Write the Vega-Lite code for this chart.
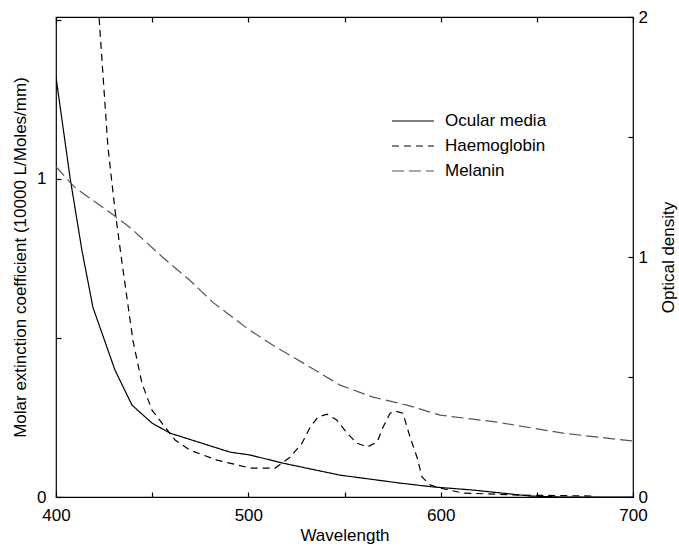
{
  "$schema": "https://vega.github.io/schema/vega-lite/v6.json",
  "width": 577,
  "height": 480,
  "autosize": {"type": "none"},
  "padding": {"left": 56, "top": 17, "right": 46, "bottom": 49},
  "background": "white",
  "config": {
    "view": {"stroke": "black", "strokeWidth": 1.2},
    "font": "Liberation Sans",
    "axis": {
      "grid": false,
      "domain": false,
      "tickColor": "black",
      "tickSize": 5,
      "tickWidth": 1.2,
      "offset": -5,
      "labelFont": "Liberation Sans",
      "labelFontSize": 17,
      "labelColor": "black",
      "titleFont": "Liberation Sans",
      "titleFontWeight": "normal",
      "titleColor": "black"
    }
  },
  "data": {
    "values": [
      {"series": "Haemoglobin", "w": 422.4, "v": 1.505},
      {"series": "Haemoglobin", "w": 427, "v": 1.10},
      {"series": "Haemoglobin", "w": 430.7, "v": 0.90},
      {"series": "Haemoglobin", "w": 433.8, "v": 0.759},
      {"series": "Haemoglobin", "w": 440, "v": 0.492},
      {"series": "Haemoglobin", "w": 444.7, "v": 0.357},
      {"series": "Haemoglobin", "w": 449.9, "v": 0.273},
      {"series": "Haemoglobin", "w": 455.1, "v": 0.232},
      {"series": "Haemoglobin", "w": 461.9, "v": 0.179},
      {"series": "Haemoglobin", "w": 469.7, "v": 0.147},
      {"series": "Haemoglobin", "w": 483.7, "v": 0.116},
      {"series": "Haemoglobin", "w": 500.9, "v": 0.091},
      {"series": "Haemoglobin", "w": 513.9, "v": 0.091},
      {"series": "Haemoglobin", "w": 521.7, "v": 0.125},
      {"series": "Haemoglobin", "w": 527.9, "v": 0.169},
      {"series": "Haemoglobin", "w": 532.1, "v": 0.219},
      {"series": "Haemoglobin", "w": 536.2, "v": 0.251},
      {"series": "Haemoglobin", "w": 540.9, "v": 0.260},
      {"series": "Haemoglobin", "w": 546.1, "v": 0.241},
      {"series": "Haemoglobin", "w": 551.3, "v": 0.201},
      {"series": "Haemoglobin", "w": 556.5, "v": 0.169},
      {"series": "Haemoglobin", "w": 561.7, "v": 0.157},
      {"series": "Haemoglobin", "w": 566.9, "v": 0.172},
      {"series": "Haemoglobin", "w": 570, "v": 0.219},
      {"series": "Haemoglobin", "w": 573.7, "v": 0.263},
      {"series": "Haemoglobin", "w": 576.3, "v": 0.270},
      {"series": "Haemoglobin", "w": 580.4, "v": 0.263},
      {"series": "Haemoglobin", "w": 584.1, "v": 0.188},
      {"series": "Haemoglobin", "w": 587.7, "v": 0.125},
      {"series": "Haemoglobin", "w": 590.3, "v": 0.063},
      {"series": "Haemoglobin", "w": 594.5, "v": 0.038},
      {"series": "Haemoglobin", "w": 599.7, "v": 0.028},
      {"series": "Haemoglobin", "w": 611.6, "v": 0.0125},
      {"series": "Haemoglobin", "w": 641, "v": 0.006},
      {"series": "Haemoglobin", "w": 681, "v": 0.003},
      {"series": "Ocular media", "w": 400, "v": 1.750},
      {"series": "Ocular media", "w": 407.3, "v": 1.331},
      {"series": "Ocular media", "w": 413.5, "v": 1.027},
      {"series": "Ocular media", "w": 419.2, "v": 0.790},
      {"series": "Ocular media", "w": 430.7, "v": 0.528},
      {"series": "Ocular media", "w": 439.5, "v": 0.383},
      {"series": "Ocular media", "w": 449.9, "v": 0.308},
      {"series": "Ocular media", "w": 459.3, "v": 0.266},
      {"series": "Ocular media", "w": 490.5, "v": 0.187},
      {"series": "Ocular media", "w": 500.9, "v": 0.175},
      {"series": "Ocular media", "w": 518, "v": 0.141},
      {"series": "Ocular media", "w": 547.7, "v": 0.091},
      {"series": "Ocular media", "w": 578.9, "v": 0.058},
      {"series": "Ocular media", "w": 596, "v": 0.042},
      {"series": "Ocular media", "w": 616.8, "v": 0.029},
      {"series": "Ocular media", "w": 646.5, "v": 0.004},
      {"series": "Ocular media", "w": 662, "v": 0},
      {"series": "Ocular media", "w": 700, "v": 0},
      {"series": "Melanin", "w": 400, "v": 1.376},
      {"series": "Melanin", "w": 409.9, "v": 1.289},
      {"series": "Melanin", "w": 428.1, "v": 1.185},
      {"series": "Melanin", "w": 438.5, "v": 1.123},
      {"series": "Melanin", "w": 455.6, "v": 0.998},
      {"series": "Melanin", "w": 469.7, "v": 0.902},
      {"series": "Melanin", "w": 481.6, "v": 0.811},
      {"series": "Melanin", "w": 499.3, "v": 0.703},
      {"series": "Melanin", "w": 512.8, "v": 0.632},
      {"series": "Melanin", "w": 530.5, "v": 0.549},
      {"series": "Melanin", "w": 547.7, "v": 0.466},
      {"series": "Melanin", "w": 564.8, "v": 0.416},
      {"series": "Melanin", "w": 582.5, "v": 0.383},
      {"series": "Melanin", "w": 599.7, "v": 0.341},
      {"series": "Melanin", "w": 629.3, "v": 0.312},
      {"series": "Melanin", "w": 663.6, "v": 0.266},
      {"series": "Melanin", "w": 700, "v": 0.233}
    ]
  },
  "encoding": {
    "x": {
      "field": "w",
      "type": "quantitative",
      "scale": {"domain": [400, 700], "nice": false, "zero": false}
    },
    "color": {
      "field": "series",
      "type": "nominal",
      "scale": {"domain": ["Ocular media", "Haemoglobin", "Melanin"], "range": ["black", "black", "#555555"]},
      "legend": {
        "title": null,
        "orient": "none",
        "legendX": 335,
        "legendY": 93,
        "symbolType": "stroke",
        "symbolSize": 1764,
        "symbolStrokeWidth": 1.2,
        "clipHeight": 22,
        "labelFont": "Liberation Sans",
        "labelFontSize": 17,
        "labelColor": "black",
        "labelOffset": 10,
        "rowPadding": 3
      }
    },
    "strokeDash": {
      "field": "series",
      "type": "nominal",
      "scale": {"domain": ["Ocular media", "Haemoglobin", "Melanin"], "range": [[1, 0], [7, 5], [12, 5]]},
      "legend": {
        "title": null,
        "orient": "none",
        "legendX": 335,
        "legendY": 93,
        "symbolType": "stroke",
        "symbolSize": 1764,
        "symbolStrokeWidth": 1.2,
        "clipHeight": 22,
        "labelFont": "Liberation Sans",
        "labelFontSize": 17,
        "labelColor": "black",
        "labelOffset": 10,
        "rowPadding": 3
      }
    }
  },
  "layer": [
    {
      "transform": [{"filter": "datum.series === 'Haemoglobin'"}],
      "mark": {"type": "line", "strokeWidth": 1.2, "clip": true},
      "encoding": {
        "x": {
          "field": "w",
          "type": "quantitative",
          "axis": {
            "orient": "bottom",
            "title": "Wavelength",
            "titleFontSize": 17,
            "titleBaseline": "alphabetic",
            "titleY": 48,
            "values": [400, 450, 500, 550, 600, 650, 700],
            "labelExpr": "datum.value % 100 === 0 ? datum.label : ''",
            "labelPadding": 10,
            "labelFlush": false
          }
        },
        "y": {
          "field": "v",
          "type": "quantitative",
          "scale": {"domain": [0, 1.508], "nice": false},
          "axis": {
            "orient": "left",
            "title": "Molar extinction coefficient (10000 L/Moles/mm)",
            "titleFontSize": 17,
            "titleX": -36,
            "titleBaseline": "alphabetic",
            "values": [0, 0.5, 1, 1.5],
            "labelExpr": "datum.value % 1 === 0 ? format(datum.value, 'd') : ''",
            "labelPadding": 10,
            "labelFlush": false
          }
        }
      }
    },
    {
      "transform": [{"filter": "datum.series !== 'Haemoglobin'"}],
      "mark": {"type": "line", "strokeWidth": 1.2, "clip": true},
      "encoding": {
        "x": {
          "field": "w",
          "type": "quantitative",
          "axis": {
            "orient": "top",
            "title": null,
            "labels": false,
            "values": [400, 450, 500, 550, 600, 650, 700]
          }
        },
        "y": {
          "field": "v",
          "type": "quantitative",
          "scale": {"domain": [0, 2], "nice": false},
          "axis": {
            "orient": "right",
            "title": "Optical density",
            "titleFontSize": 17,
            "titleX": 45,
            "titleBaseline": "alphabetic",
            "titleAngle": 270,
            "values": [0, 0.5, 1, 1.5, 2],
            "labelExpr": "datum.value % 1 === 0 ? format(datum.value, 'd') : ''",
            "labelPadding": 5,
            "labelFlush": false
          }
        }
      }
    }
  ],
  "resolve": {"scale": {"y": "independent"}, "axis": {"x": "independent", "y": "independent"}}
}
